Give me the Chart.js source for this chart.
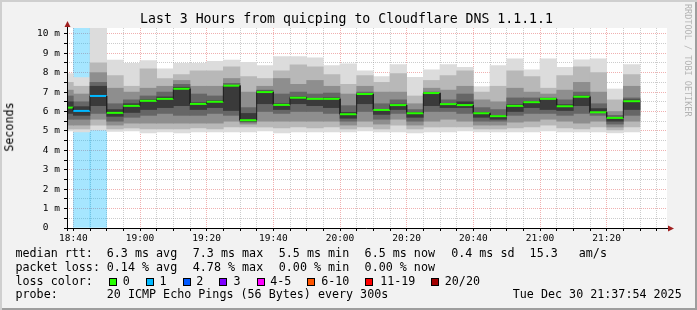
<!DOCTYPE html>
<html>
<head>
<meta charset="utf-8">
<script src="https://cdn.jsdelivr.net/npm/chart.js@4.4.1/dist/chart.umd.min.js"></script>
<style>
  html, body { margin: 0; padding: 0; background: #f2f2f2; }
  #wrap {
    position: relative; width: 697px; height: 310px; overflow: hidden; background: #f2f2f2;
    box-shadow: inset 2px 2px 0 #cfcfcf, inset -2px -2px 0 #9e9e9e;
    font-family: 'DejaVu Sans Mono', monospace; color: #000;
  }
  #chart { position: absolute; left: 0; top: 0; }
  .t { position: absolute; white-space: pre; font-size: 11.7px; line-height: 11.7px; }
  .box { position: absolute; width: 8px; height: 8px; box-sizing: border-box; border: 1px solid #000; }
  #title { position: absolute; left: 0; top: 12px; width: 693px; text-align: center; font-size: 13.2px; line-height: 13.2px; white-space: pre; }
  #ytitle { position: absolute; left: 10px; top: 127px; font-size: 11.7px; line-height: 11.7px; white-space: pre;
            transform: translate(-50%, -50%) rotate(-90deg); }
  #mark { position: absolute; left: 683px; top: 4px; font-size: 8.5px; line-height: 9px; color: #b4b4b4;
          writing-mode: vertical-rl; white-space: pre; }
</style>
</head>
<body>
<div id="wrap">
  <canvas id="chart" width="697" height="310"></canvas>
  <div id="title">Last 3 Hours from quicping to Cloudflare DNS 1.1.1.1</div>
  <div id="ytitle">Seconds</div>
  <div id="mark">RRDTOOL / TOBI OETIKER</div>
  <div id="legend"></div>
</div>
<script>
// 5-minute slots (start time), 18:35 is only partly visible
const slots = ['18:35', '18:40', '18:45', '18:50', '18:55', '19:00', '19:05', '19:10', '19:15', '19:20',
               '19:25', '19:30', '19:35', '19:40', '19:45', '19:50', '19:55', '20:00', '20:05', '20:10',
               '20:15', '20:20', '20:25', '20:30', '20:35', '20:40', '20:45', '20:50', '20:55', '21:00',
               '21:05', '21:10', '21:15', '21:20', '21:25'];

// median rtt in ms
const median = [6.2, 6.03, 6.8, 5.93, 6.29, 6.55, 6.65, 7.17, 6.39, 6.5,
                7.33, 5.55, 7.0, 6.34, 6.71, 6.65, 6.65, 5.86, 6.9, 6.08,
                6.33, 5.91, 6.95, 6.38, 6.33, 5.91, 5.76, 6.29, 6.48, 6.65,
                6.27, 6.76, 5.96, 5.67, 6.53];

// lost pings out of 20
const loss = [0, 1, 1, 0, 0, 0, 0, 0, 0, 0,
              0, 0, 0, 0, 0, 0, 0, 0, 0, 0,
              0, 0, 0, 0, 0, 0, 0, 0, 0, 0,
              0, 0, 0, 0, 0];

// smoke bands, outer (lightest) to inner (darkest), ms
const band1Lo = [5.0, 4.95, 5.05, 4.97, 5.0, 4.9, 4.95, 4.9, 4.95, 4.95,
                 4.95, 4.95, 5.0, 4.9, 4.95, 4.95, 4.95, 4.95, 5.0, 4.95,
                 4.95, 4.9, 4.95, 4.95, 5.0, 4.95, 4.95, 4.95, 4.95, 5.0,
                 4.95, 4.95, 4.95, 4.9, 4.95];
const band1Hi = [7.95, 7.75, 10.5, 8.65, 8.48, 8.62, 8.2, 8.48, 8.48, 8.58,
                 8.65, 8.53, 8.36, 8.83, 8.83, 8.76, 8.36, 8.45, 8.1, 7.8,
                 8.42, 7.76, 8.14, 8.42, 8.28, 7.28, 8.36, 8.71, 8.14, 8.71,
                 8.28, 8.66, 8.71, 7.16, 8.42];
const band2Lo = [5.1, 5.1, 5.3, 5.1, 5.15, 5.1, 5.1, 5.1, 5.15, 5.1,
                 5.2, 5.2, 5.2, 5.15, 5.2, 5.15, 5.2, 5.1, 5.2, 5.1,
                 5.3, 5.1, 5.2, 5.2, 5.2, 5.1, 5.1, 5.15, 5.2, 5.3,
                 5.15, 5.1, 5.2, 5.05, 5.2];
const band2Hi = [7.5, 7.3, 8.5, 7.85, 7.3, 8.2, 7.7, 7.9, 8.1, 8.1,
                 8.3, 7.8, 7.7, 8.1, 8.4, 8.3, 7.9, 7.4, 7.85, 7.5,
                 7.95, 6.8, 7.6, 7.85, 8.1, 7.0, 7.3, 8.1, 7.8, 7.2,
                 7.85, 8.3, 8.0, 6.6, 7.9];
const band3Lo = [5.3, 5.3, 5.6, 5.3, 5.4, 5.4, 5.4, 5.4, 5.4, 5.4,
                 5.5, 5.35, 5.5, 5.5, 5.5, 5.5, 5.5, 5.3, 5.5, 5.35,
                 5.6, 5.3, 5.5, 5.6, 5.5, 5.3, 5.3, 5.45, 5.5, 5.6,
                 5.5, 5.4, 5.5, 5.2, 5.5];
const band3Hi = [7.1, 6.9, 8.0, 7.2, 7.0, 7.2, 7.3, 7.6, 7.3, 7.3,
                 7.7, 7.0, 7.3, 7.7, 7.4, 7.6, 7.3, 6.9, 7.3, 7.0,
                 7.0, 6.4, 7.2, 7.1, 7.3, 6.6, 6.5, 7.2, 7.0, 6.9,
                 7.1, 7.5, 7.0, 6.0, 7.3];
const band4Lo = [5.6, 5.6, 5.9, 5.5, 5.7, 5.8, 5.9, 5.8, 5.8, 5.9,
                 5.8, 5.45, 6.0, 5.9, 6.0, 6.0, 5.9, 5.5, 6.0, 5.6,
                 5.9, 5.5, 6.0, 6.0, 5.9, 5.5, 5.5, 5.8, 5.9, 5.9,
                 5.8, 5.9, 5.8, 5.35, 5.8];
const band4Hi = [6.8, 6.5, 7.5, 6.4, 6.6, 6.8, 7.0, 7.4, 6.9, 6.8,
                 7.45, 6.2, 7.1, 6.9, 7.0, 6.9, 6.95, 6.3, 7.0, 6.4,
                 6.6, 6.1, 7.0, 6.6, 6.9, 6.2, 6.1, 6.7, 6.7, 6.7,
                 6.6, 7.0, 6.4, 5.8, 6.7];
const band5Lo = [5.9, 5.8, 6.3, 5.75, 5.95, 6.1, 6.2, 6.3, 6.1, 6.2,
                 6.05, 5.5, 6.4, 6.1, 6.4, 6.3, 6.2, 5.65, 6.4, 5.85,
                 6.1, 5.7, 6.3, 6.2, 6.2, 5.7, 5.6, 6.0, 6.2, 6.1,
                 6.05, 6.3, 5.95, 5.5, 6.1];
const band5Hi = [6.5, 6.25, 7.3, 6.1, 6.4, 6.6, 6.75, 7.25, 6.45, 6.55,
                 7.35, 5.9, 7.05, 6.4, 6.75, 6.68, 6.7, 5.95, 6.92, 6.1,
                 6.38, 5.95, 6.97, 6.4, 6.5, 5.95, 5.8, 6.35, 6.52, 6.67,
                 6.35, 6.8, 6.15, 5.7, 6.6];

const xLabels = ['18:40', '19:00', '19:20', '19:40', '20:00', '20:20', '20:40', '21:00', '21:20'];
const lossLabels = ['0', '1', '2', '3', '4-5', '6-10', '11-19', '20/20'];
const lossColors = ['#26ff00', '#00b8ff', '#0059ff', '#7e00ff', '#ff00ff', '#ff5500', '#ff0000', '#a10000'];
const lossUpper = [0, 1, 2, 3, 5, 10, 19, 20];

const FONT = "'DejaVu Sans Mono', monospace";
const MINOR = 'rgba(143,143,143,0.45)';
const MAJOR = 'rgba(222,80,80,0.45)';
const bandColors = ['#dcdcdc', '#b8b8b8', '#8e8e8e', '#666666', '#3a3a3a'];
const bands = [[band1Lo, band1Hi], [band2Lo, band2Hi], [band3Lo, band3Hi], [band4Lo, band4Hi], [band5Lo, band5Hi]];

const toMin = s => { const [h, m] = s.split(':').map(Number); return (h - 18) * 60 + m; };
const STEP = 5;
const viewStart = 38.1, viewEnd = 218.1, yTop = 10.3;
const lossColor = n => lossColors[lossUpper.findIndex(u => n <= u)];
const hexA = (hex, a) => 'rgba(' + [1, 3, 5].map(i => parseInt(hex.slice(i, i + 2), 16)).join(',') + ',' + a + ')';

const majorX = xLabels.map(toMin);
const xGrid = [];
for (let m = 40; m <= 215; m += STEP) xGrid.push(m);
const yGrid = [];
for (let v = 0; v <= 10; v += 0.5) yGrid.push(v);

const datasets = [];
// median line: horizontal parts coloured by loss, joined by dark vertical steps
const medPts = [];
slots.forEach((s, i) => { medPts.push({ x: toMin(s), y: median[i] }, { x: toMin(s) + STEP, y: median[i] }); });
datasets.push({
  type: 'line', data: medPts, order: 0, clip: 0, pointRadius: 0, borderWidth: 2,
  borderColor: '#202020',
  segment: {
    borderColor: c => c.p0DataIndex % 2 === 0 ? lossColor(loss[c.p0DataIndex >> 1]) : '#202020',
    borderWidth: c => c.p0DataIndex % 2 === 0 ? 2 : 1
  }
});
bands.forEach(([lo, hi], b) => {
  datasets.push({
    type: 'bar', order: bands.length - b, grouped: false, clip: 0,
    barPercentage: 1, categoryPercentage: 1, borderWidth: 0,
    backgroundColor: bandColors[b],
    data: slots.map((s, i) => ({ x: toMin(s) + STEP / 2, y: [lo[i], hi[i]] }))
  });
});
// loss background
const lossIdx = slots.map((s, i) => i).filter(i => loss[i] > 0);
datasets.push({
  type: 'bar', order: 10, grouped: false, clip: 0,
  barPercentage: 1, categoryPercentage: 1, borderWidth: 0,
  backgroundColor: lossIdx.map(i => hexA(lossColor(loss[i]), 0.35)),
  data: lossIdx.map(i => ({ x: toMin(slots[i]) + STEP / 2, y: [0, yTop] }))
});

const frame = {
  id: 'frame',
  beforeDraw(chart) {
    const { ctx, chartArea: a } = chart;
    ctx.save();
    ctx.fillStyle = '#fff';
    ctx.fillRect(a.left, a.top, a.right - a.left, a.bottom - a.top);
    ctx.restore();
  },
  afterDraw(chart) {
    const { ctx, chartArea: a } = chart;
    ctx.save();
    ctx.strokeStyle = '#000';
    ctx.lineWidth = 1;
    ctx.beginPath();
    ctx.moveTo(a.left - 3, a.bottom + 0.5); ctx.lineTo(a.right + 2, a.bottom + 0.5);
    ctx.moveTo(a.left + 0.5, a.bottom + 3); ctx.lineTo(a.left + 0.5, a.top - 2);
    ctx.stroke();
    ctx.fillStyle = '#a02020';
    ctx.beginPath();
    ctx.moveTo(a.right + 7, a.bottom + 0.5); ctx.lineTo(a.right + 1, a.bottom - 2.5); ctx.lineTo(a.right + 1, a.bottom + 3.5);
    ctx.closePath(); ctx.fill();
    ctx.beginPath();
    ctx.moveTo(a.left + 0.5, a.top - 7); ctx.lineTo(a.left - 2.5, a.top - 1); ctx.lineTo(a.left + 3.5, a.top - 1);
    ctx.closePath(); ctx.fill();
    ctx.restore();
  }
};

new Chart(document.getElementById('chart'), {
  type: 'bar',
  data: { datasets },
  options: {
    responsive: false, animation: false, events: [],
    layout: { padding: { left: 0, right: 30, top: 28, bottom: 62 } },
    plugins: { legend: { display: false }, tooltip: { enabled: false } },
    scales: {
      x: {
        type: 'linear', min: viewStart, max: viewEnd, z: 1, offset: false,
        afterBuildTicks: s => { s.ticks = xGrid.map(v => ({ value: v })); },
        afterFit: s => { s.height = 20; },
        grid: { offset: false, color: c => (c.tick && majorX.includes(c.tick.value)) ? MAJOR : MINOR, tickColor: '#000', tickLength: 3 },
        border: { display: false, dash: [1, 1] },
        ticks: {
          autoSkip: false, maxRotation: 0, padding: 2, color: '#000', font: { family: FONT, size: 9.5 },
          callback: v => { const k = majorX.indexOf(v); return k >= 0 ? xLabels[k] : ''; }
        }
      },
      y: {
        min: 0, max: yTop, z: 1,
        afterBuildTicks: s => { s.ticks = yGrid.map(v => ({ value: v })); },
        afterFit: s => { s.width = 67; },
        grid: { color: c => (c.tick && Number.isInteger(c.tick.value)) ? MAJOR : MINOR, tickColor: '#000', tickLength: 3 },
        border: { display: false, dash: [1, 1] },
        ticks: {
          autoSkip: false, padding: 4, color: '#000', font: { family: FONT, size: 9.5 },
          callback: v => Number.isInteger(v) ? (v === 0 ? '0  ' : v + ' m') : ''
        }
      }
    }
  },
  plugins: [frame]
});

// legend / statistics text under the graph
const legend = document.getElementById('legend');
const put = (txt, x, y) => {
  const d = document.createElement('div');
  d.className = 't'; d.textContent = txt;
  d.style.left = x + 'px'; d.style.top = y + 'px';
  legend.appendChild(d);
};
const rows = [248.4, 261.8, 275.6, 289.3];
put('median rtt:', 15.5, rows[0]);
[['6.3 ms avg', 106.8], ['7.3 ms max', 192.8], ['5.5 ms min', 278.8], ['6.5 ms now', 364.6],
 ['0.4 ms sd', 451.2], ['15.3', 529.6], ['am/s', 578.8]].forEach(([t, x]) => put(t, x, rows[0]));
put('packet loss:', 15.5, rows[1]);
[['0.14 % avg', 106.8], ['4.78 % max', 192.8], ['0.00 % min', 278.8], ['0.00 % now', 364.6]]
  .forEach(([t, x]) => put(t, x, rows[1]));
put('loss color:', 15.5, rows[2]);
const boxX = [108.7, 145.7, 182.7, 219.3, 256.7, 307.3, 365.3, 430.7];
const boxLabelX = [122.8, 159.5, 196.2, 233.5, 270.2, 321.2, 380.2, 444.8];
lossLabels.forEach((lab, i) => {
  const b = document.createElement('div');
  b.className = 'box';
  b.style.left = Math.round(boxX[i]) + 'px'; b.style.top = '278px';
  b.style.background = lossColors[i];
  legend.appendChild(b);
  put(lab, boxLabelX[i], rows[2]);
});
put('probe:', 15.5, rows[3]);
put('20 ICMP Echo Pings (56 Bytes) every 300s', 106.8, rows[3]);
put('Tue Dec 30 21:37:54 2025', 512.8, rows[3]);
</script>
</body>
</html>
